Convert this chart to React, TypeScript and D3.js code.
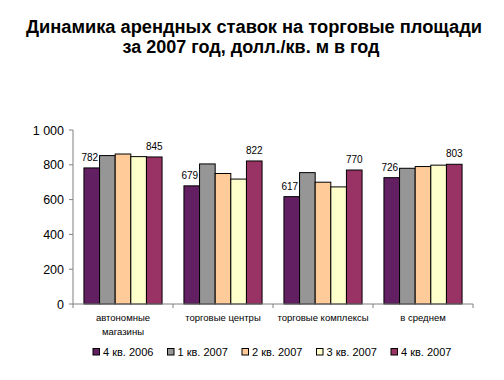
import React from "react";
import * as d3 from "d3";

const categories: string[][] = [
  ["автономные", "магазины"],
  ["торговые центры"],
  ["торговые комплексы"],
  ["в среднем"],
];
const seriesNames = ["4 кв. 2006", "1 кв. 2007", "2 кв. 2007", "3 кв. 2007", "4 кв. 2007"];
const seriesColors = ["#621F62", "#969696", "#FFCC99", "#FFFFCC", "#993366"];
const q4_2006 = [782, 679, 617, 726];
const q1_2007 = [853, 805, 755, 780];
const q2_2007 = [862, 750, 700, 790];
const q3_2007 = [847, 718, 673, 798];
const q4_2007 = [845, 822, 770, 803];
const yTicks = [0, 200, 400, 600, 800, 1000];
const labelledSeries = [0, 4];

const series = [q4_2006, q1_2007, q2_2007, q3_2007, q4_2007];

export default function App() {
  const W = 504, H = 380;
  const left = 73, right = 473, top = 130, bottom = 304;
  const font = "'Liberation Sans', Arial, sans-serif";
  const x = d3.scaleBand<number>().domain(d3.range(categories.length)).range([left, right]);
  const xi = d3.scaleBand<number>().domain(d3.range(series.length)).range([0, x.bandwidth()]).paddingInner(0).paddingOuter(0.7);
  const y = d3.scaleLinear().domain([0, 1000]).range([bottom, top]);
  const fmt = (v: number) => (v >= 1000 ? d3.format(",")(v).replace(",", " ") : String(v));
  const legendX = d3.scaleLinear().domain([0, 1]).range([93, 167.5]);

  return (
    <svg width={W} height={H} style={{ position: "absolute", left: 0, top: 0, background: "#fff" }} fontFamily={font}>
      <text x={254} y={33} textAnchor="middle" fontSize={18.3} fontWeight="bold" fill="#000" textLength={456} lengthAdjust="spacing">
        Динамика арендных ставок на торговые площади
      </text>
      <text x={251} y={53} textAnchor="middle" fontSize={18} fontWeight="bold" fill="#000">
        за 2007 год, долл./кв. м в год
      </text>
      {/* bars */}
      {series.map((vals, si) =>
        vals.map((v, ci) => (
          <rect
            key={`${si}-${ci}`}
            x={(x(ci) as number) + (xi(si) as number)}
            y={y(v)}
            width={xi.bandwidth()}
            height={bottom - y(v)}
            fill={seriesColors[si]}
            stroke="#000"
            strokeWidth={1}
          />
        ))
      )}
      {/* data labels */}
      {labelledSeries.map((si) =>
        series[si].map((v, ci) => (
          <text
            key={`l-${si}-${ci}`}
            x={(x(ci) as number) + (xi(si) as number) + xi.bandwidth() / 2 - (si === 0 ? 2 : 0)}
            y={y(v) - 7}
            textAnchor="middle"
            fontSize={10}
            fill="#000"
          >
            {v}
          </text>
        ))
      )}
      {/* y axis */}
      <line x1={left} x2={left} y1={top} y2={bottom} stroke="#808080" />
      {yTicks.map((t) => (
        <g key={t}>
          <line x1={left - 4} x2={left} y1={y(t)} y2={y(t)} stroke="#808080" />
          <text x={left - 9} y={y(t) + 4.5} textAnchor="end" fontSize={12.5} fill="#000">
            {fmt(t)}
          </text>
        </g>
      ))}
      {/* x axis */}
      <line x1={left} x2={right} y1={bottom} y2={bottom} stroke="#808080" />
      {d3.range(categories.length + 1).map((i) => {
        const xx = i < categories.length ? (x(i) as number) : right;
        return <line key={i} x1={xx} x2={xx} y1={bottom} y2={bottom + 4} stroke="#808080" />;
      })}
      {categories.map((lines, ci) =>
        lines.map((ln, li) => (
          <text
            key={`c-${ci}-${li}`}
            x={(x(ci) as number) + x.bandwidth() / 2}
            y={321 + li * 14}
            textAnchor="middle"
            fontSize={9.5}
            fill="#000"
          >
            {ln}
          </text>
        ))
      )}
      {/* legend */}
      {seriesNames.map((n, i) => (
        <g key={n}>
          <rect x={legendX(i)} y={348.5} width={6.5} height={6.5} fill={seriesColors[i]} stroke="#000" strokeWidth={1} />
          <text x={legendX(i) + 10} y={356} fontSize={11} fill="#000">
            {n}
          </text>
        </g>
      ))}
    </svg>
  );
}
